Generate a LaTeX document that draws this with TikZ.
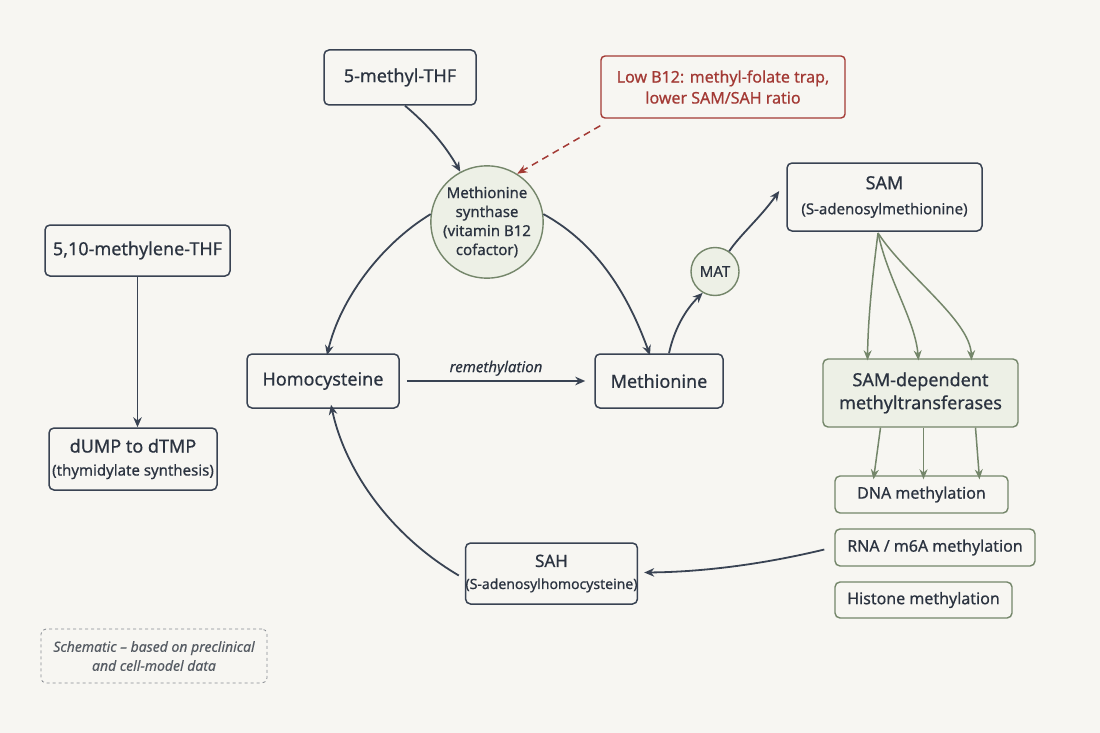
\documentclass[tikz,border=0pt]{standalone}
\usepackage{fontspec}
\setmainfont{Noto Sans}[UprightFeatures={FakeBold=0.6}, ItalicFeatures={FakeBold=0.3}]
\usetikzlibrary{arrows.meta,shapes.geometric}
\definecolor{bg}{HTML}{F7F6F2}
\definecolor{ink}{HTML}{2B3340}
\definecolor{edge}{HTML}{394353}
\definecolor{grn}{HTML}{74866A}
\definecolor{grnfill}{HTML}{EDF0E6}
\definecolor{red}{HTML}{A33A35}
\definecolor{note}{HTML}{555B63}
\tikzset{
  box/.style={draw=edge, line width=1.5pt, rounded corners=5pt, fill=bg, text=ink, align=center, inner sep=0pt},
  gbox/.style={draw=grn, line width=1.4pt, rounded corners=5pt, text=ink, align=center, inner sep=0pt},
  circ/.style={circle, draw=grn, line width=1.4pt, fill=grnfill, text=ink, align=center, inner sep=0pt},
  arr/.style={draw=edge, line width=1.8pt, -{Stealth[length=10pt,width=8.5pt]}},
  garr/.style={draw=grn, line width=1.5pt, -{Stealth[length=10pt,width=8pt]}},
  rarr/.style={draw=red, line width=1.5pt, dash pattern=on 7pt off 5pt, -{Stealth[length=10pt,width=8pt]}},
}
\begin{document}
\begin{tikzpicture}[x=1pt,y=-1pt]
\fill[bg] (0,0) rectangle (1100,733);
\useasboundingbox (0,0) rectangle (1100,733);

\node[box, minimum width=152pt, minimum height=55pt, font=\fontsize{18}{20}\selectfont] (mthf) at (400,77.5) {5-methyl-THF};
\node[draw=red, line width=1.4pt, rounded corners=4pt, fill=bg, text=red, align=center, inner sep=0pt, minimum width=244pt, minimum height=62pt, font=\fontsize{16}{21}\selectfont] (low) at (723,87) {Low B12: methyl-folate trap,\\ lower SAM/SAH ratio};
\node[circ, minimum size=109pt, font=\fontsize{15}{19}\selectfont] (ms) at (487,222) {Methionine\\synthase\\(vitamin B12\\cofactor)};

\node[box, minimum width=185pt, minimum height=51pt, font=\fontsize{18}{20}\selectfont] (mthf2) at (137.5,250.5) {5,10-methylene-THF};
\node[box, minimum width=168pt, minimum height=62pt, font=\fontsize{15}{23}\selectfont] (dump) at (133,459) {{\fontsize{18}{22}\selectfont dUMP to dTMP}\\(thymidylate synthesis)};

\node[box, minimum width=152pt, minimum height=54pt, font=\fontsize{18}{20}\selectfont] (hcy) at (323,381) {Homocysteine};
\node[box, minimum width=128pt, minimum height=54pt, font=\fontsize{18}{20}\selectfont] (met) at (659,381) {Methionine};

\node[circ, minimum size=48pt, font=\fontsize{15}{18}\selectfont] (mat) at (715,271.5) {MAT};

\node[box, minimum width=195pt, minimum height=68pt, font=\fontsize{15}{25}\selectfont] (sam) at (884.5,197) {{\fontsize{18}{22}\selectfont SAM}\\(S-adenosylmethionine)};

\node[gbox, fill=grnfill, minimum width=195pt, minimum height=68pt, font=\fontsize{18}{23}\selectfont] (mtase) at (920.5,393) {SAM-dependent\\methyltransferases};

\node[gbox, fill=bg, minimum width=173pt, minimum height=37pt, font=\fontsize{16}{20}\selectfont] (dna) at (921.5,494.5) {DNA methylation};
\node[gbox, fill=bg, minimum width=200pt, minimum height=37pt, font=\fontsize{16}{20}\selectfont] (rna) at (935,547.5) {RNA / m6A methylation};
\node[gbox, fill=bg, minimum width=177pt, minimum height=36pt, font=\fontsize{16}{20}\selectfont] (his) at (923.5,600) {Histone methylation};

\node[box, minimum width=165pt, minimum height=61pt, font=\fontsize{14}{22}\selectfont] (sah) at (551.5,573.5) {{\fontsize{17}{21}\selectfont SAH}\\(S-adenosylhomocysteine)};

\node[draw=note!70, line width=0.8pt, dashed, rounded corners=5pt, text=note, align=center, inner sep=0pt, minimum width=226pt, minimum height=54pt, font=\itshape\fontsize{14}{19}\selectfont] (fn) at (154,656) {Schematic – based on preclinical\\and cell-model data};

% connectors
\draw[arr] ([xshift=5pt]mthf.south) .. controls (428,125) and (445,145) .. (ms.118);
\draw[rarr] ([yshift=-7pt]low.south west) -- (ms.58);
\draw[arr] (mthf2.south) -- (dump.north -| mthf2.south);
\draw[arr] ([xshift=7pt]hcy.east) -- ([xshift=-9pt]met.west) node[midway, above=1pt, font=\itshape\fontsize{15}{18}\selectfont, text=ink] {remethylation};
\draw[arr] (ms.172) .. controls (380,245) and (340,300) .. ([xshift=4pt,yshift=-2pt]hcy.north);
\draw[arr] (ms.8) .. controls (600,245) and (630,300) .. ([xshift=-9pt,yshift=-2pt]met.north);
\draw[arr] ([xshift=10pt]met.north) .. controls (674,330) and (685,310) .. (mat.240);
\draw[arr] (mat.55) .. controls (740,235) and (760,218) .. ([xshift=-7pt,yshift=6pt]sam.west);
\coordinate (sb) at (878,233);
\draw[garr] (sb) .. controls (872,280) and (868,320) .. ([xshift=-53pt,yshift=-2pt]mtase.north);
\draw[garr] (sb) .. controls (888,280) and (915,320) .. ([xshift=-2pt,yshift=-2pt]mtase.north);
\draw[garr] (sb) .. controls (905,275) and (970,320) .. ([xshift=51pt,yshift=-2pt]mtase.north);
\draw[garr] ([xshift=-40pt]mtase.south) -- ([xshift=-48pt,yshift=-4pt]dna.north);
\draw[garr] ([xshift=3pt]mtase.south) -- ([xshift=2pt,yshift=-4pt]dna.north);
\draw[garr] ([xshift=55pt]mtase.south) -- ([xshift=58pt,yshift=-4pt]dna.north);
\draw[arr] ([xshift=-10pt,yshift=-2pt]rna.west) .. controls (760,565) and (700,572) .. ([xshift=6pt,yshift=1pt]sah.east);
\draw[arr] ([xshift=-6pt,yshift=-2pt]sah.west) .. controls (390,535) and (345,470) .. ([xshift=8pt,yshift=4pt]hcy.south);
\end{tikzpicture}
\end{document}
